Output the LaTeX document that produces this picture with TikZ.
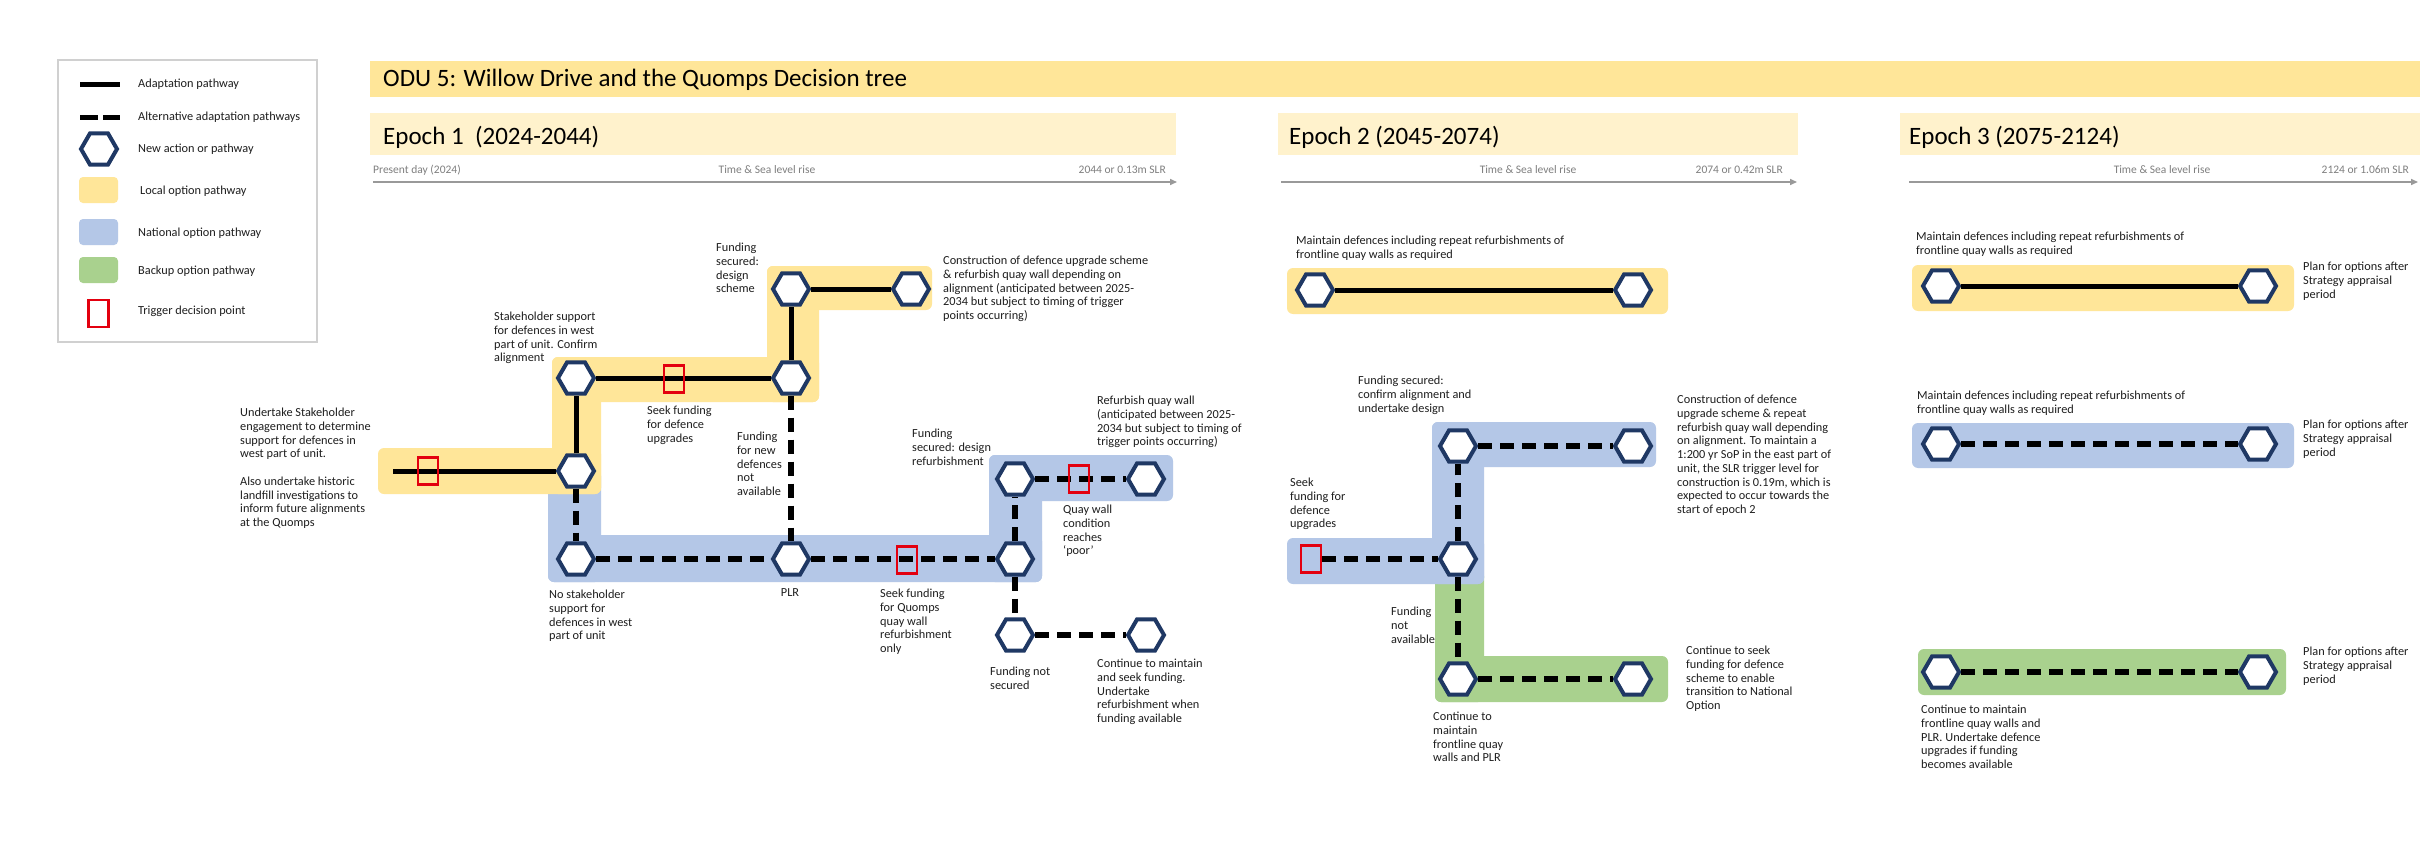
\documentclass[tikz,border=0pt]{standalone}
\usepackage{fontspec}
\setmainfont{Carlito}
\usetikzlibrary{shapes.geometric,arrows.meta}
\definecolor{ylw}{HTML}{FFE699}
\definecolor{ylwl}{HTML}{FFF2CC}
\definecolor{blu}{HTML}{B4C7E7}
\definecolor{grn}{HTML}{A9D18E}
\definecolor{navy}{HTML}{1F3864}
\definecolor{trig}{HTML}{E3000F}
\definecolor{txtc}{HTML}{1E1E1E}
\definecolor{tlc}{HTML}{7F7F7F}
\definecolor{lgb}{HTML}{D0D0D0}
\begin{document}
\begin{tikzpicture}[x=1pt,y=-1pt,
  hexn/.style={regular polygon, regular polygon sides=6, minimum size=36pt, inner sep=0pt, draw=navy, line width=4pt, fill=white},
  trg/.style={rectangle, draw=trig, line width=2.5pt, minimum width=20pt, minimum height=27pt, inner sep=0pt},
  solidp/.style={line width=5pt, black},
  dashp/.style={line width=6pt, black, dash pattern=on 14pt off 8pt},
  lbl/.style={anchor=north west, inner sep=0pt, align=left, text=txtc, font=\fontsize{12.3}{13.75}\selectfont},
  lgt/.style={anchor=west, inner sep=0pt, text=txtc, font=\fontsize{12.3}{14}\selectfont},
  head/.style={anchor=west, inner sep=0pt, text=black, font=\fontsize{25}{30}\selectfont},
  tlt/.style={inner sep=0pt, text=tlc, font=\fontsize{11.5}{13}\selectfont},
  tla/.style={draw=tlc!80, line width=1.5pt, -{Triangle[length=7pt,width=6pt]}},
  bgy/.style={fill=ylw, rounded corners=6pt},
  bgb/.style={fill=blu, rounded corners=6pt},
  bgg/.style={fill=grn, rounded corners=6pt}
]
\useasboundingbox (0,0) rectangle (2420,859);
\fill[white] (0,0) rectangle (2420,859);

% ---------- legend ----------
\draw[lgb, line width=1.2pt] (58,60) rectangle (317,342);
\coordinate (la1) at (80,84); \coordinate (la2) at (120,84);
\draw[line width=5pt] (la1) -- (la2);
\coordinate (lb1) at (80,117); \coordinate (lb2) at (120,117);
\draw[line width=5pt, dash pattern=on 18pt off 5pt] (lb1) -- (lb2);
\node[hexn] (lhex) at (99,149) {};
\fill[ylw, rounded corners=4pt] (79,177) rectangle (118,203);
\fill[blu, rounded corners=4pt] (79,219) rectangle (118,245);
\fill[grn, rounded corners=4pt] (79,257) rectangle (118,283);
\node[trg] (ltrg) at (98.5,313.5) {};
\node[lgt] (lt1) at (138,84) {Adaptation pathway};
\node[lgt] (lt2) at (138,117) {Alternative adaptation pathways};
\node[lgt] (lt3) at (138,149) {New action or pathway};
\node[lgt] (lt4) at (140,191) {Local option pathway};
\node[lgt] (lt5) at (138,233) {National option pathway};
\node[lgt] (lt6) at (138,271) {Backup option pathway};
\node[lgt] (lt7) at (138,311) {Trigger decision point};

% ---------- title and epoch bars ----------
\fill[ylw] (370,61) rectangle (2420,97);
\node[head] (title) at (383,80) {ODU 5: Willow Drive and the Quomps Decision tree};
\fill[ylwl] (370,113) rectangle (1176,155);
\fill[ylwl] (1278,113) rectangle (1798,155);
\fill[ylwl] (1900,113) rectangle (2420,155);
\node[head] (ep1) at (383,137) {Epoch 1\ \ (2024-2044)};
\node[head] (ep2) at (1289,137) {Epoch 2 (2045-2074)};
\node[head] (ep3) at (1909,137) {Epoch 3 (2075-2124)};

% timelines
\coordinate (tl1a) at (373,182); \coordinate (tl1b) at (1177,182);
\coordinate (tl2a) at (1281,182); \coordinate (tl2b) at (1797,182);
\coordinate (tl3a) at (1909,182); \coordinate (tl3b) at (2418,182);
\draw[tla] (tl1a) -- (tl1b);
\draw[tla] (tl2a) -- (tl2b);
\draw[tla] (tl3a) -- (tl3b);
\node[tlt, anchor=west] (tt1a) at (373,170) {Present day (2024)};
\node[tlt] (tt1b) at (767,170) {Time \& Sea level rise};
\node[tlt, anchor=east] (tt1c) at (1166,170) {2044 or 0.13m SLR};
\node[tlt] (tt2b) at (1528,170) {Time \& Sea level rise};
\node[tlt, anchor=east] (tt2c) at (1783,170) {2074 or 0.42m SLR};
\node[tlt] (tt3b) at (2162,170) {Time \& Sea level rise};
\node[tlt, anchor=east] (tt3c) at (2409,170) {2124 or 1.06m SLR};

% ---------- epoch 1 backgrounds ----------
\fill[bgb] (548,470) rectangle (601,582);
\fill[bgb] (548,535) rectangle (1042,582);
\fill[bgb] (989,455) rectangle (1042,582);
\fill[bgb] (989,455) rectangle (1173,501);
\fill[bgy] (378,448) rectangle (601,494);
\fill[bgy] (552,357) rectangle (601,494);
\fill[bgy] (552,357) rectangle (819,402);
\fill[bgy] (767,266) rectangle (819,402);
\fill[bgy] (767,266) rectangle (932,310);

% ---------- epoch 2 backgrounds ----------
\fill[bgy] (1287,268) rectangle (1668,314);
\fill[bgg] (1435,570) rectangle (1484,702);
\fill[bgg] (1435,656) rectangle (1668,702);
\fill[bgb] (1432,422) rectangle (1656,467);
\fill[bgb] (1432,422) rectangle (1484,584);
\fill[bgb] (1287,538) rectangle (1484,584);

% ---------- epoch 3 backgrounds ----------
\fill[bgy] (1912,265) rectangle (2294,311);
\fill[bgb] (1912,423) rectangle (2294,468);
\fill[bgg] (1918,649) rectangle (2286,695);

% ---------- epoch 1 nodes ----------
\coordinate (s1) at (393,471);
\node[hexn] (e1start) at (576,471) {};
\node[hexn] (e1stake) at (576,378) {};
\node[hexn] (e1nostake) at (576,559) {};
\node[hexn] (e1seek) at (791,378) {};
\node[hexn] (e1fund) at (791,289) {};
\node[hexn] (e1const) at (911,289) {};
\node[hexn] (e1plr) at (791,559) {};
\node[hexn] (e1refj) at (1015,559) {};
\node[hexn] (e1refd) at (1015,479) {};
\node[hexn] (e1refq) at (1146,479) {};
\node[hexn] (e1nots) at (1015,635) {};
\node[hexn] (e1cont) at (1146,635) {};

\draw[solidp] (s1) -- (e1start);
\draw[solidp] (e1start) -- (e1stake);
\draw[solidp] (e1stake) -- (e1seek);
\draw[solidp] (e1seek) -- (e1fund);
\draw[solidp] (e1fund) -- (e1const);
\draw[dashp] (e1start) -- (e1nostake);
\draw[dashp] (e1nostake) -- (e1plr);
\draw[dashp] (e1seek) -- (e1plr);
\draw[dashp] (e1plr) -- (e1refj);
\draw[dashp] (e1refj) -- (e1refd);
\draw[dashp] (e1refd) -- (e1refq);
\draw[dashp] (e1refj) -- (e1nots);
\draw[dashp] (e1nots) -- (e1cont);

\node[trg] (t1) at (428,471) {};
\node[trg] (t2) at (674,379) {};
\node[trg] (t3) at (907,560) {};
\node[trg] (t4) at (1079,479) {};

% ---------- epoch 2 nodes ----------
\node[hexn] (e2a) at (1315,290) {};
\node[hexn] (e2b) at (1633,290) {};
\node[hexn] (e2top) at (1458,446) {};
\node[hexn] (e2topr) at (1633,446) {};
\node[hexn] (e2mid) at (1458,559) {};
\node[hexn] (e2bot) at (1458,679) {};
\node[hexn] (e2botr) at (1633,679) {};
\node[trg] (t5) at (1311,559) {};
\draw[solidp] (e2a) -- (e2b);
\draw[dashp] (t5) -- (e2mid);
\draw[dashp] (e2mid) -- (e2top);
\draw[dashp] (e2top) -- (e2topr);
\draw[dashp] (e2mid) -- (e2bot);
\draw[dashp] (e2bot) -- (e2botr);

% ---------- epoch 3 nodes ----------
\node[hexn] (e3a) at (1941,286) {};
\node[hexn] (e3b) at (2258,286) {};
\node[hexn] (e3c) at (1941,444) {};
\node[hexn] (e3d) at (2258,444) {};
\node[hexn] (e3e) at (1941,672) {};
\node[hexn] (e3f) at (2258,672) {};
\draw[solidp] (e3a) -- (e3b);
\draw[dashp] (e3c) -- (e3d);
\draw[dashp] (e3e) -- (e3f);

% ---------- labels epoch 1 ----------
\node[lbl] (l1) at (240,408) {Undertake Stakeholder\\engagement to determine\\support for defences in\\west part of unit.\\[13.75pt]Also undertake historic\\landfill investigations to\\inform future alignments\\at the Quomps};
\node[lbl] (l2) at (494,312) {Stakeholder support\\for defences in west\\part of unit. Confirm\\alignment};
\node[lbl] (l3) at (647,406) {Seek funding\\for defence\\upgrades};
\node[lbl] (l4) at (549,590) {No stakeholder\\support for\\defences in west\\part of unit};
\node[lbl] (l5) at (716,243) {Funding\\secured:\\design\\scheme};
\node[lbl] (l6) at (943,256) {Construction of defence upgrade scheme\\\& refurbish quay wall depending on\\alignment (anticipated between 2025-\\2034 but subject to timing of trigger\\points occurring)};
\node[lbl] (l7) at (737,432) {Funding\\for new\\defences\\not\\available};
\node[lbl, anchor=north] (l8) at (790,588) {PLR};
\node[lbl] (l9) at (912,429) {Funding\\secured: design\\refurbishment};
\node[lbl] (l10) at (1097,396) {Refurbish quay wall\\(anticipated between 2025-\\2034 but subject to timing of\\trigger points occurring)};
\node[lbl] (l11) at (1063,505) {Quay wall\\condition\\reaches\\‘poor’};
\node[lbl] (l12) at (880,589) {Seek funding\\for Quomps\\quay wall\\refurbishment\\only};
\node[lbl] (l13) at (990,667) {Funding not\\secured};
\node[lbl] (l14) at (1097,659) {Continue to maintain\\and seek funding.\\Undertake\\refurbishment when\\funding available};

% ---------- labels epoch 2 ----------
\node[lbl] (m1) at (1296,236) {Maintain defences including repeat refurbishments of\\frontline quay walls as required};
\node[lbl] (m2) at (1358,376) {Funding secured:\\confirm alignment and\\undertake design};
\node[lbl] (m3) at (1677,395) {Construction of defence\\upgrade scheme \& repeat\\refurbish quay wall depending\\on alignment. To maintain a\\1:200 yr SoP in the east part of\\unit, the SLR trigger level for\\construction is 0.19m, which is\\expected to occur towards the\\start of epoch 2};
\node[lbl] (m4) at (1290,478) {Seek\\funding for\\defence\\upgrades};
\node[lbl] (m5) at (1391,607) {Funding\\not\\available};
\node[lbl] (m6) at (1686,646) {Continue to seek\\funding for defence\\scheme to enable\\transition to National\\Option};
\node[lbl] (m7) at (1433,712) {Continue to\\maintain\\frontline quay\\walls and PLR};

% ---------- labels epoch 3 ----------
\node[lbl] (n1) at (1916,232) {Maintain defences including repeat refurbishments of\\frontline quay walls as required};
\node[lbl] (n2) at (2303,262) {Plan for options after\\Strategy appraisal\\period};
\node[lbl] (n3) at (1917,391) {Maintain defences including repeat refurbishments of\\frontline quay walls as required};
\node[lbl] (n4) at (2303,420) {Plan for options after\\Strategy appraisal\\period};
\node[lbl] (n5) at (2303,647) {Plan for options after\\Strategy appraisal\\period};
\node[lbl] (n6) at (1921,705) {Continue to maintain\\frontline quay walls and\\PLR. Undertake defence\\upgrades if funding\\becomes available};
\end{tikzpicture}
\end{document}
